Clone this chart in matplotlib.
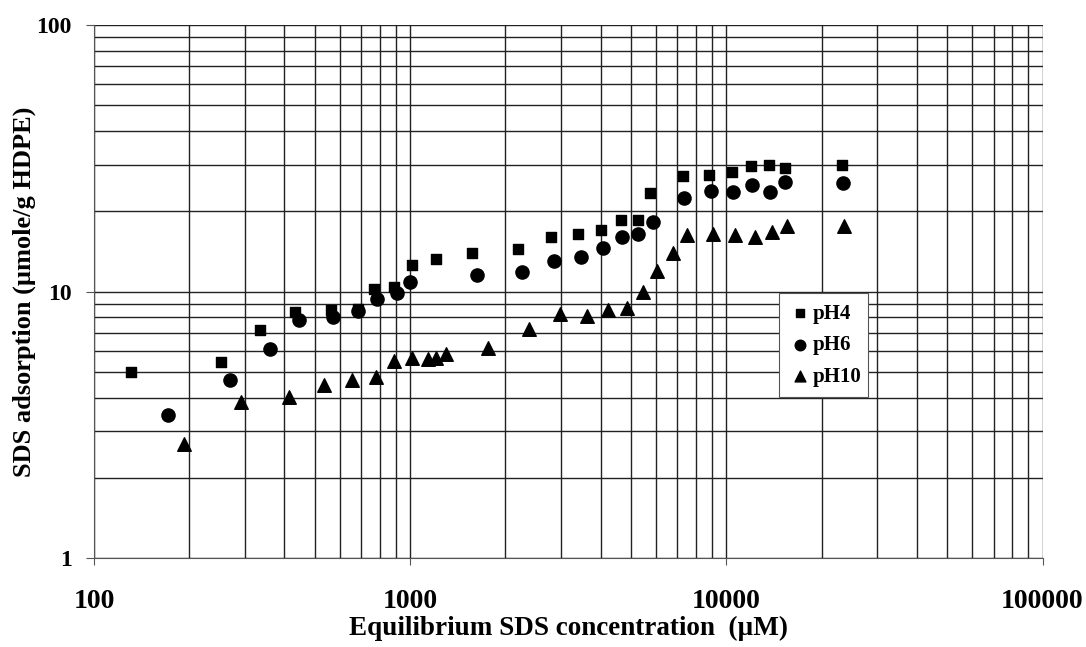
import numpy as np
import matplotlib.pyplot as plt
from matplotlib.ticker import LogLocator, FixedLocator, NullFormatter

plt.rcParams['font.family'] = ['Liberation Serif', 'DejaVu Serif']
plt.rcParams['font.weight'] = 'bold'

# pH4 (kotak)
x_ph4 = [131, 252, 335, 433, 562, 685, 769, 890, 1010, 1208, 1571, 2198, 2793, 3400,
         4020, 4650, 5270, 5750, 7310, 8830, 10450, 11990, 13680, 15270, 23290]
y_ph4 = [5.0, 5.46, 7.2, 8.4, 8.56, 8.6, 10.2, 10.4, 12.6, 13.3, 14.0, 14.5, 16.1, 16.4,
         17.0, 18.6, 18.6, 23.4, 27.1, 27.3, 28.0, 29.5, 30.0, 29.2, 29.8]

# pH6 (lingkaran)
x_ph6 = [171, 269, 361, 445, 571, 685, 787, 910, 1000, 1630, 2262, 2856, 3476, 4080,
         4690, 5270, 5875, 7360, 8970, 10520, 12080, 13780, 15270, 23450]
y_ph6 = [3.45, 4.67, 6.1, 7.85, 8.05, 8.49, 9.4, 9.9, 10.9, 11.5, 11.8, 13.0, 13.5, 14.6,
         16.1, 16.4, 18.2, 22.4, 23.8, 23.6, 25.2, 23.6, 25.9, 25.5]

# pH10 (segitiga)
x_ph10 = [193, 292, 414, 534, 655, 780, 890, 1015, 1140, 1210, 1300, 1766, 2380, 2985,
          3630, 4235, 4860, 5460, 6050, 6800, 7530, 9100, 10670, 12360, 13990, 15600, 23620]
y_ph10 = [2.68, 3.86, 4.03, 4.47, 4.67, 4.79, 5.5, 5.65, 5.6, 5.65, 5.85, 6.16, 7.26, 8.27,
          8.13, 8.5, 8.7, 10.0, 12.0, 14.0, 16.3, 16.4, 16.3, 16.1, 16.7, 17.7, 17.7]

fig = plt.figure(figsize=(10.86, 6.47), dpi=100)
ax = fig.add_axes([0.0866, 0.1376, 0.8734, 0.8234])

ax.scatter(x_ph4, y_ph4, marker='s', s=50, color='black', label='pH4', zorder=3)
ax.scatter(x_ph6, y_ph6, marker='o', s=90, color='black', label='pH6', zorder=3)
ax.scatter(x_ph10, y_ph10, marker='^', s=95, color='black', label='pH10', zorder=3)

ax.set_xscale('log')
ax.set_yscale('log')
ax.set_xlim(100, 100000)
ax.set_ylim(1, 100)

ax.xaxis.set_major_locator(FixedLocator([100, 1000, 10000, 100000]))
ax.yaxis.set_major_locator(FixedLocator([1, 10, 100]))
ax.xaxis.set_minor_locator(LogLocator(base=10, subs=np.arange(2, 10)))
ax.yaxis.set_minor_locator(LogLocator(base=10, subs=np.arange(2, 10)))
ax.xaxis.set_minor_formatter(NullFormatter())
ax.yaxis.set_minor_formatter(NullFormatter())
ax.set_xticklabels(['100', '1000', '10000', '100000'])
ax.set_yticklabels(['1', '10', '100'])

ax.grid(True, which='both', color='#222222', linewidth=1.0)
ax.set_axisbelow(True)
for s in ['top', 'right']:
    ax.spines[s].set_visible(False)
ax.spines['left'].set_color('#555555')
ax.spines['bottom'].set_color('#555555')

ax.tick_params(axis='x', which='major', length=5, color='#555555', pad=17, labelsize=20)
ax.tick_params(axis='y', which='major', length=6, color='#555555', pad=10, labelsize=17)
ax.tick_params(which='minor', length=0)

ax.set_xlabel('Equilibrium SDS concentration  (\u00b5M)', fontsize=19.5, fontweight='bold', labelpad=2)
ax.set_ylabel('SDS adsorption (\u00b5mole/g HDPE)', fontsize=19, fontweight='bold', labelpad=0)

leg = ax.legend(loc='lower left', bbox_to_anchor=(0.722, 0.302, 0.094, 0.2), mode='expand',
                fontsize=15, frameon=True, fancybox=False, handletextpad=0.1,
                handlelength=1.0, borderpad=0.5, labelspacing=0.55, markerscale=0.8,
                borderaxespad=0)
leg.get_frame().set_edgecolor('#555555')
leg.get_frame().set_linewidth(0.8)
leg.get_frame().set_alpha(1)
for t in leg.get_texts():
    t.set_fontweight('bold')

plt.savefig('out.png', dpi=100)
